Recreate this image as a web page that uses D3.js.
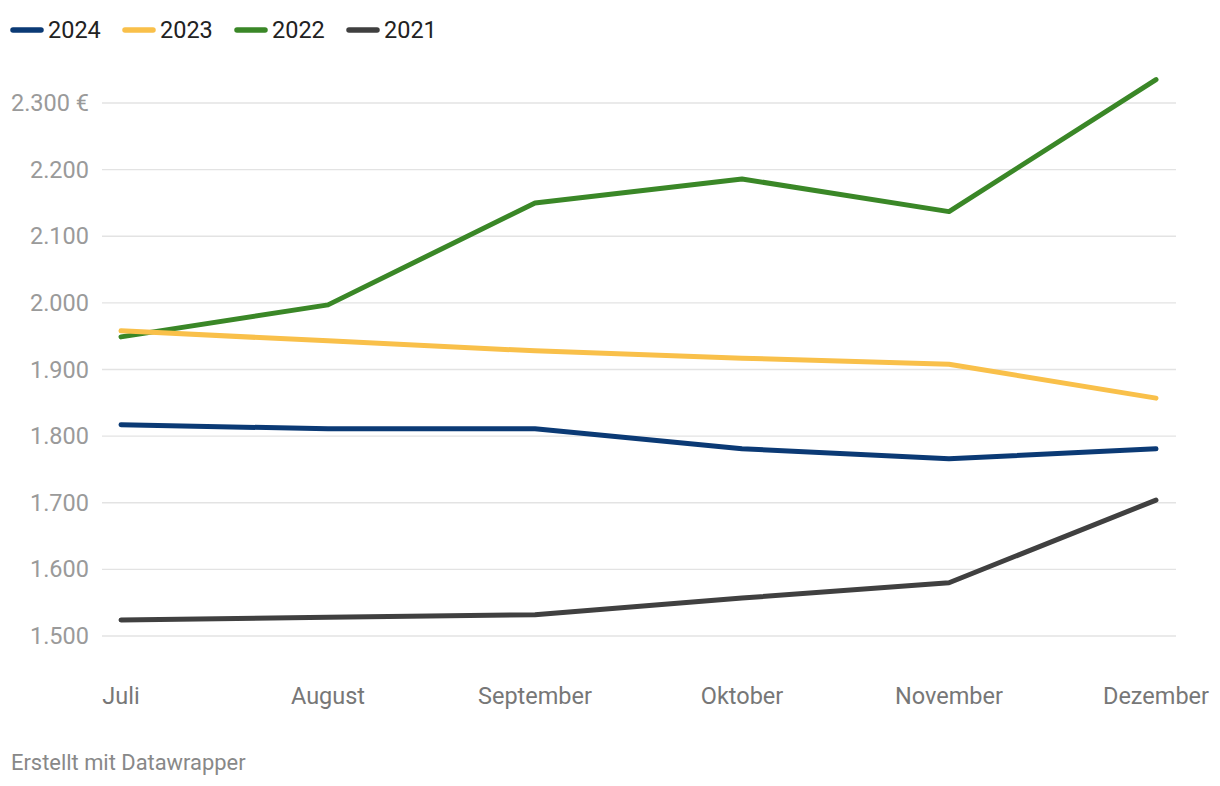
<!DOCTYPE html>
<html><head><meta charset="utf-8">
<script src="https://cdn.jsdelivr.net/npm/d3@7"></script>
<style>body{margin:0;background:#fff;font-family:Roboto,"Noto Sans",sans-serif}</style>
</head><body><svg id="c" width="1220" height="786"></svg>
<script>
const months = ["Juli","August","September","Oktober","November","Dezember"];
const years = ["2024","2023","2022","2021"];
const v2024 = [1817,1811,1811,1781,1766,1781];
const v2023 = [1958,1943,1928,1917,1908,1857];
const v2022 = [1949,1997,2150,2186,2137,2335];
const v2021 = [1524,1528,1532,1557,1580,1704];
const yTicks = [1500,1600,1700,1800,1900,2000,2100,2200,2300];
const colors = {"2024":"#0b3a75","2023":"#f9c04a","2022":"#3a8727","2021":"#404040"};
const seriesVals = {"2024":v2024,"2023":v2023,"2022":v2022,"2021":v2021};

const svg = d3.select("#c");
const x = d3.scalePoint().domain(months).range([121,1156]);
const y = d3.scaleLinear().domain([1500,2300]).range([636,103]);
const fmt = v => d3.format(",")(v).replace(/,/g,".") + (v===2300 ? " €" : "");

// grid
svg.append("g").selectAll("line").data(yTicks).join("line")
  .attr("x1",102).attr("x2",1176).attr("y1",d=>y(d)).attr("y2",d=>y(d))
  .attr("stroke","#e3e3e3").attr("stroke-width",1.3);
svg.append("g").selectAll("text").data(yTicks).join("text")
  .attr("x",89).attr("y",d=>y(d)+8).attr("text-anchor","end")
  .attr("fill","#9a9a9a").attr("font-size",23.5)
  .text(d=>fmt(d));
// x labels
svg.append("g").selectAll("text").data(months).join("text")
  .attr("x",d=>x(d)).attr("y",704).attr("text-anchor","middle")
  .attr("fill","#777").attr("font-size",23.5).text(d=>d);

const line = d3.line().x((d,i)=>x(months[i])).y(d=>y(d));
[...years].reverse().forEach(yr=>{
  svg.append("path").datum(seriesVals[yr]).attr("d",line)
    .attr("fill","none").attr("stroke",colors[yr]).attr("stroke-width",5)
    .attr("stroke-linecap","round").attr("stroke-linejoin","round");
});

// legend
const lg = svg.append("g").selectAll("g").data(years).join("g")
  .attr("transform",(d,i)=>`translate(${13+i*112},30)`);
lg.append("line").attr("x1",0).attr("x2",28).attr("stroke",d=>colors[d])
  .attr("stroke-width",5.5).attr("stroke-linecap","round");
lg.append("text").attr("x",35).attr("y",8).attr("fill","#222").attr("font-size",23.5).text(d=>d);

svg.append("text").attr("x",11).attr("y",770).attr("fill","#888").attr("font-size",21.9).text("Erstellt mit Datawrapper");
</script>
</body></html>
